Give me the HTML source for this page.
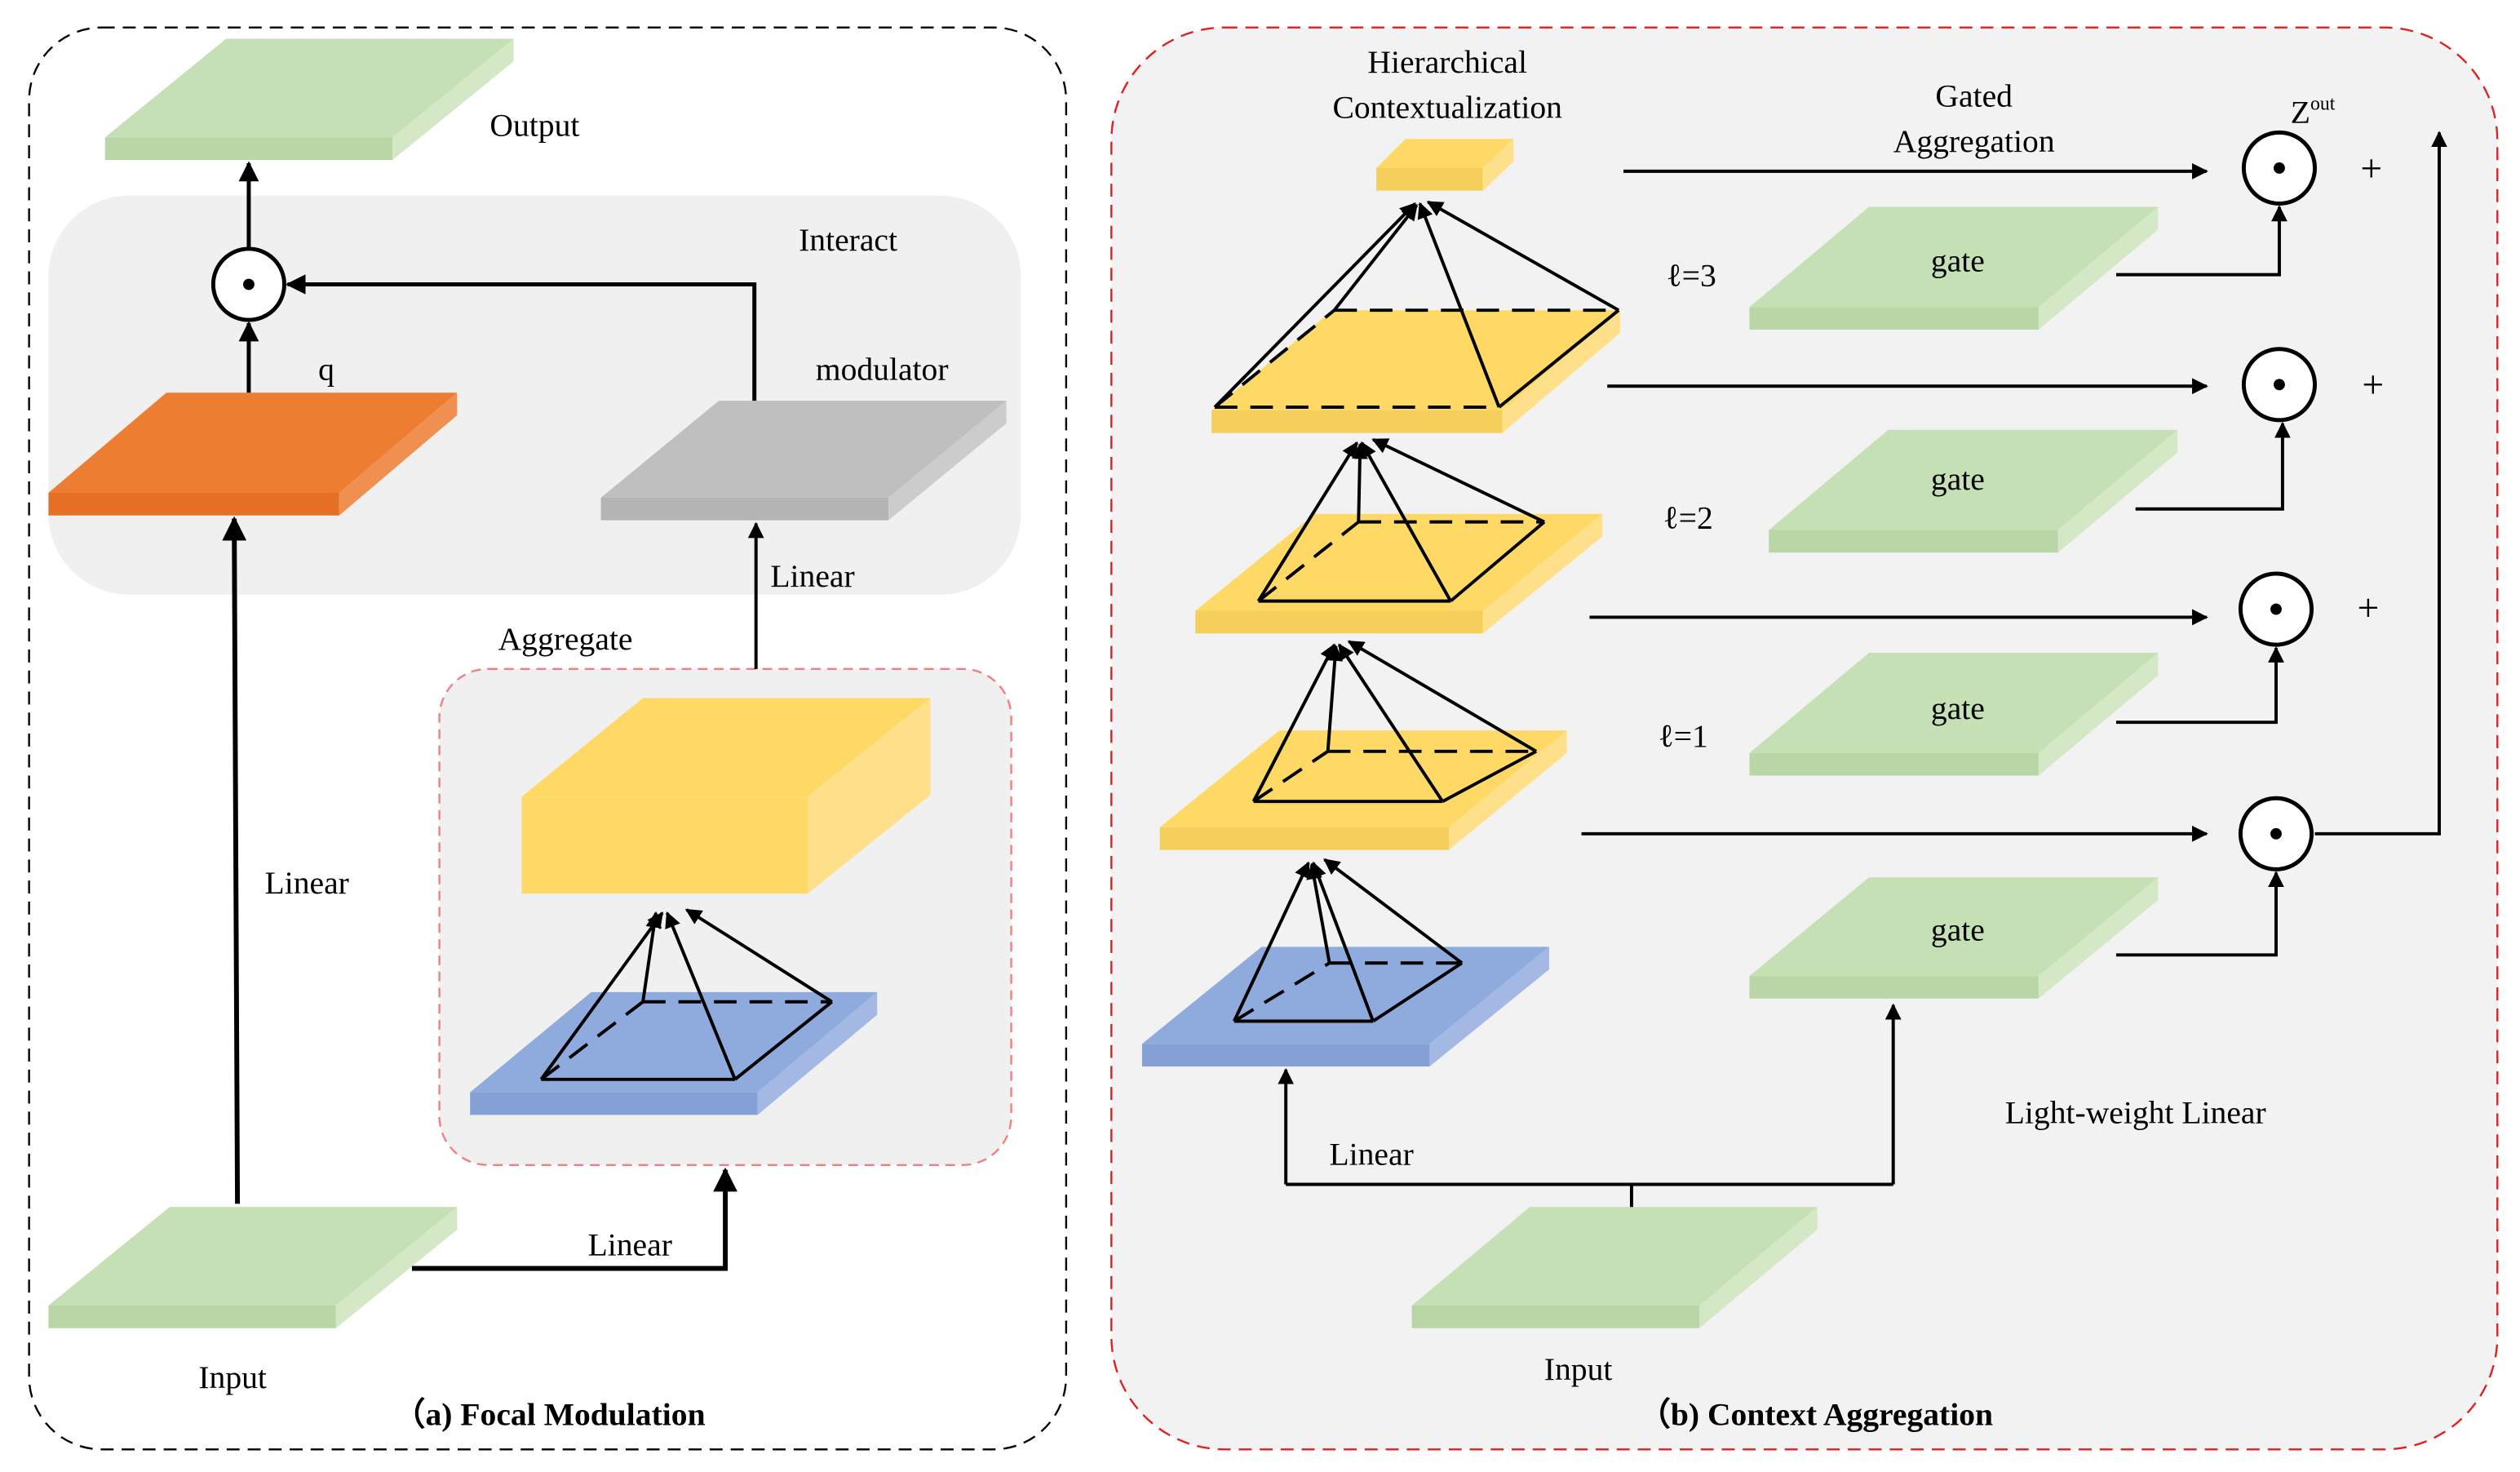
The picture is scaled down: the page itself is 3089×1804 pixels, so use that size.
<!DOCTYPE html>
<html><head><meta charset="utf-8"><style>html,body{margin:0;padding:0;background:#fff}svg{display:block}svg text{font-family:"Liberation Serif","DejaVu Serif",serif;font-size:20px;fill:#000}</style></head>
<body>
<svg width="3089" height="1804" viewBox="0 0 1560 911" preserveAspectRatio="none" xmlns="http://www.w3.org/2000/svg" font-family="Liberation Serif, DejaVu Serif, serif">
<defs>
<marker id="a" viewBox="0 0 10 10" refX="9" refY="5" markerWidth="5" markerHeight="5" orient="auto"><path d="M0,0L10,5L0,10z" fill="#000"/></marker>
</defs>
<rect x="18" y="17" width="642" height="880" rx="45" fill="#fff" stroke="#000" stroke-dasharray="8,5" stroke-width="1.2"/>
<rect x="30" y="121" width="602" height="247" rx="50" fill="#f0f0f0"/>
<rect x="272" y="414" width="354" height="307" rx="30" fill="#f0f0f0" stroke="#f08080" stroke-dasharray="6,4" stroke-width="1.2"/>
<g>
<polygon points="65,85 243,85 318,24 140,24" fill="#c5e0b4"/><polygon points="65,85 243,85 243,99 65,99" fill="#b9d6a6"/><polygon points="243,85 318,24 318,38 243,99" fill="#d4e8c6"/>
<polygon points="30,305 210,305 283,243 103,243" fill="#ed7d31"/><polygon points="30,305 210,305 210,319 30,319" fill="#e57025"/><polygon points="210,305 283,243 283,257 210,319" fill="#f09050"/>
<polygon points="372,308 550,308 623,248 445,248" fill="#bfbfbf"/><polygon points="372,308 550,308 550,322 372,322" fill="#b4b4b4"/><polygon points="550,308 623,248 623,262 550,322" fill="#cccccc"/>
<polygon points="323,493 500,493 576,432 398,432" fill="#ffd966"/><polygon points="323,493 500,493 500,553 323,553" fill="#ffd966"/><polygon points="500,493 576,432 576,492 500,553" fill="#ffe08a"/>
<polygon points="291,676 469,676 543,614 366,614" fill="#8faadc"/><polygon points="291,676 469,676 469,690 291,690" fill="#84a0d4"/><polygon points="469,676 543,614 543,628 469,690" fill="#a3b9e3"/>
<polygon points="30,808 208,808 283,747 105,747" fill="#c5e0b4"/><polygon points="30,808 208,808 208,822 30,822" fill="#b9d6a6"/><polygon points="208,808 283,747 283,761 208,822" fill="#d4e8c6"/>
</g>
<g stroke="#000" stroke-width="2.5" fill="none">
<circle cx="154" cy="176" r="22" fill="#fff"/>
<line x1="154" y1="243" x2="154" y2="200" marker-end="url(#a)"/>
<line x1="154" y1="154" x2="154" y2="101" marker-end="url(#a)"/>
<polyline points="467,248 467,176 178,176" marker-end="url(#a)"/>
<line x1="147" y1="745" x2="145" y2="321" stroke-width="3" marker-end="url(#a)"/>
<line x1="468" y1="414" x2="468" y2="324" stroke-width="2" marker-end="url(#a)"/>
<polyline points="255,785 449,785 449,724" stroke-width="3" marker-end="url(#a)"/>
<g stroke-width="2">
<line x1="335" y1="668" x2="410" y2="565" marker-end="url(#a)"/>
<line x1="455" y1="668" x2="413" y2="565" marker-end="url(#a)"/>
<line x1="515" y1="620" x2="425" y2="563" marker-end="url(#a)"/>
<line x1="398" y1="620" x2="406" y2="565" marker-end="url(#a)"/>
<line x1="335" y1="668" x2="455" y2="668"/>
<line x1="455" y1="668" x2="515" y2="620"/>
<line x1="335" y1="668" x2="398" y2="620" stroke-dasharray="14,8"/>
<line x1="398" y1="620" x2="515" y2="620" stroke-dasharray="14,8"/>
</g>
</g>
<circle cx="154" cy="176" r="3.5" fill="#000"/>
<text x="331" y="84" text-anchor="middle">Output</text>
<text x="525" y="155" text-anchor="middle">Interact</text>
<text x="202" y="235" text-anchor="middle">q</text>
<text x="546" y="235" text-anchor="middle">modulator</text>
<text x="503" y="363" text-anchor="middle">Linear</text>
<text x="350" y="402" text-anchor="middle">Aggregate</text>
<text x="190" y="553" text-anchor="middle">Linear</text>
<text x="390" y="777" text-anchor="middle">Linear</text>
<text x="144" y="859" text-anchor="middle">Input</text>
<text x="340" y="882" text-anchor="middle" font-weight="bold">（a) Focal Modulation</text>

<rect x="688" y="17" width="858" height="880" rx="70" fill="#f2f2f2" stroke="#e02020" stroke-dasharray="8,5" stroke-width="1.2"/>
<g>
<polygon points="852,104 918,104 937,86 870,86" fill="#ffd966"/><polygon points="852,104 918,104 918,118 852,118" fill="#f5cf5c"/><polygon points="918,104 937,86 937,100 918,118" fill="#ffe08a"/>
<polygon points="750,254 930,254 1003,192 825,192" fill="#ffd966"/><polygon points="750,254 930,254 930,268 750,268" fill="#f5cf5c"/><polygon points="930,254 1003,192 1003,206 930,268" fill="#ffe08a"/>
<polygon points="740,378 918,378 992,318 814,318" fill="#ffd966"/><polygon points="740,378 918,378 918,392 740,392" fill="#f5cf5c"/><polygon points="918,378 992,318 992,332 918,392" fill="#ffe08a"/>
<polygon points="718,512 897,512 970,452 792,452" fill="#ffd966"/><polygon points="718,512 897,512 897,526 718,526" fill="#f5cf5c"/><polygon points="897,512 970,452 970,466 897,526" fill="#ffe08a"/>
<polygon points="707,646 885,646 959,586 781,586" fill="#8faadc"/><polygon points="707,646 885,646 885,660 707,660" fill="#84a0d4"/><polygon points="885,646 959,586 959,600 885,660" fill="#a3b9e3"/>
<polygon points="1083,190 1262,190 1336,128 1157,128" fill="#c5e0b4"/><polygon points="1083,190 1262,190 1262,204 1083,204" fill="#b9d6a6"/><polygon points="1262,190 1336,128 1336,142 1262,204" fill="#d4e8c6"/>
<polygon points="1095,328 1274,328 1348,266 1169,266" fill="#c5e0b4"/><polygon points="1095,328 1274,328 1274,342 1095,342" fill="#b9d6a6"/><polygon points="1274,328 1348,266 1348,280 1274,342" fill="#d4e8c6"/>
<polygon points="1083,466 1262,466 1336,404 1157,404" fill="#c5e0b4"/><polygon points="1083,466 1262,466 1262,480 1083,480" fill="#b9d6a6"/><polygon points="1262,466 1336,404 1336,418 1262,480" fill="#d4e8c6"/>
<polygon points="1083,604 1262,604 1336,543 1157,543" fill="#c5e0b4"/><polygon points="1083,604 1262,604 1262,618 1083,618" fill="#b9d6a6"/><polygon points="1262,604 1336,543 1336,557 1262,618" fill="#d4e8c6"/>
<polygon points="874,808 1052,808 1125,747 947,747" fill="#c5e0b4"/><polygon points="874,808 1052,808 1052,822 874,822" fill="#b9d6a6"/><polygon points="1052,808 1125,747 1125,761 1052,822" fill="#d4e8c6"/>
</g>
<g stroke="#000" stroke-width="2" fill="none">
<g>
<line x1="752" y1="252" x2="876" y2="126" marker-end="url(#a)"/><line x1="928" y1="252" x2="879" y2="126" marker-end="url(#a)"/><line x1="1002" y1="192" x2="884" y2="125" marker-end="url(#a)"/><line x1="826" y1="192" x2="877" y2="127" marker-end="url(#a)"/>
<line x1="928" y1="252" x2="1002" y2="192"/><line x1="752" y1="252" x2="928" y2="252" stroke-dasharray="14,8"/><line x1="826" y1="192" x2="1002" y2="192" stroke-dasharray="14,8"/><line x1="752" y1="252" x2="826" y2="192" stroke-dasharray="14,8"/>
</g>
<g>
<line x1="779" y1="372" x2="840" y2="274" marker-end="url(#a)"/><line x1="898" y1="372" x2="843" y2="274" marker-end="url(#a)"/><line x1="956" y1="323" x2="850" y2="272" marker-end="url(#a)"/><line x1="841" y1="323" x2="842" y2="275" marker-end="url(#a)"/>
<line x1="779" y1="372" x2="898" y2="372"/><line x1="898" y1="372" x2="956" y2="323"/><line x1="779" y1="372" x2="841" y2="323" stroke-dasharray="14,8"/><line x1="841" y1="323" x2="956" y2="323" stroke-dasharray="14,8"/>
</g>
<g>
<line x1="776" y1="496" x2="826" y2="399" marker-end="url(#a)"/><line x1="893" y1="496" x2="829" y2="399" marker-end="url(#a)"/><line x1="951" y1="465" x2="835" y2="397" marker-end="url(#a)"/><line x1="822" y1="465" x2="827" y2="400" marker-end="url(#a)"/>
<line x1="776" y1="496" x2="893" y2="496"/><line x1="893" y1="496" x2="951" y2="465"/><line x1="776" y1="496" x2="822" y2="465" stroke-dasharray="14,8"/><line x1="822" y1="465" x2="951" y2="465" stroke-dasharray="14,8"/>
</g>
<g>
<line x1="764" y1="632" x2="810" y2="534" marker-end="url(#a)"/><line x1="850" y1="632" x2="813" y2="534" marker-end="url(#a)"/><line x1="905" y1="596" x2="820" y2="532" marker-end="url(#a)"/><line x1="823" y1="596" x2="812" y2="535" marker-end="url(#a)"/>
<line x1="764" y1="632" x2="850" y2="632"/><line x1="850" y1="632" x2="905" y2="596"/><line x1="764" y1="632" x2="823" y2="596" stroke-dasharray="14,8"/><line x1="823" y1="596" x2="905" y2="596" stroke-dasharray="14,8"/>
</g>
<circle cx="1411" cy="104" r="22" fill="#fff" stroke-width="2.5"/>
<circle cx="1411" cy="238" r="22" fill="#fff" stroke-width="2.5"/>
<circle cx="1409" cy="377" r="22" fill="#fff" stroke-width="2.5"/>
<circle cx="1409" cy="516" r="22" fill="#fff" stroke-width="2.5"/>
<line x1="1005" y1="106" x2="1366" y2="106" marker-end="url(#a)"/>
<line x1="995" y1="239" x2="1366" y2="239" marker-end="url(#a)"/>
<line x1="984" y1="382" x2="1366" y2="382" marker-end="url(#a)"/>
<line x1="979" y1="516" x2="1366" y2="516" marker-end="url(#a)"/>
<polyline points="1310,170 1411,170 1411,128" marker-end="url(#a)"/>
<polyline points="1322,315 1413,315 1413,262" marker-end="url(#a)"/>
<polyline points="1310,447 1409,447 1409,401" marker-end="url(#a)"/>
<polyline points="1310,591 1409,591 1409,540" marker-end="url(#a)"/>
<polyline points="1433,516 1510,516 1510,82" marker-end="url(#a)"/>
<polyline points="1010,747 1010,733"/>
<polyline points="796,733 1172,733"/>
<line x1="796" y1="733" x2="796" y2="662" marker-end="url(#a)"/>
<line x1="1172" y1="733" x2="1172" y2="622" marker-end="url(#a)"/>
</g>
<circle cx="1411" cy="104" r="3.5"/><circle cx="1411" cy="238" r="3.5"/><circle cx="1409" cy="377" r="3.5"/><circle cx="1409" cy="516" r="3.5"/>
<text x="896" y="45" text-anchor="middle">Hierarchical</text>
<text x="896" y="73" text-anchor="middle">Contextualization</text>
<text x="1222" y="66" text-anchor="middle">Gated</text>
<text x="1222" y="94" text-anchor="middle">Aggregation</text>
<text x="1418" y="76">Z<tspan font-size="12" dy="-8">out</tspan></text>
<text x="1468" y="112" text-anchor="middle" style="font-size:24px">+</text>
<text x="1469" y="246" text-anchor="middle" style="font-size:24px">+</text>
<text x="1466" y="384" text-anchor="middle" style="font-size:24px">+</text>
<text x="1212" y="168" text-anchor="middle">gate</text>
<text x="1212" y="303" text-anchor="middle">gate</text>
<text x="1212" y="445" text-anchor="middle">gate</text>
<text x="1212" y="582" text-anchor="middle">gate</text>
<text x="1047" y="177" text-anchor="middle">ℓ=3</text>
<text x="1045" y="327" text-anchor="middle">ℓ=2</text>
<text x="1042" y="462" text-anchor="middle">ℓ=1</text>
<text x="849" y="721" text-anchor="middle">Linear</text>
<text x="1322" y="695" text-anchor="middle">Light-weight Linear</text>
<text x="977" y="854" text-anchor="middle">Input</text>
<text x="1124" y="882" text-anchor="middle" font-weight="bold">（b) Context Aggregation</text>
</svg>
</body></html>
